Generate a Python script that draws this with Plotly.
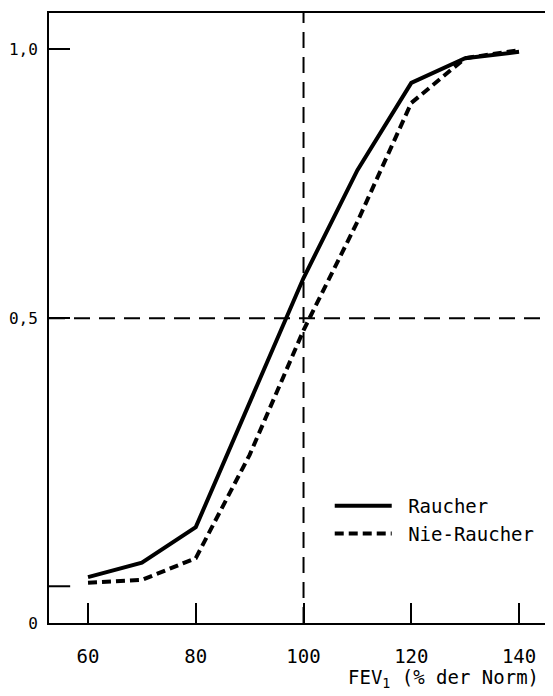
import plotly.graph_objects as go

# Data
fev = [60, 70, 80, 90, 100, 110, 120, 130, 140]
raucher = [0.080, 0.105, 0.167, 0.385, 0.601, 0.789, 0.941, 0.984, 0.995]
nie_raucher = [0.070, 0.075, 0.113, 0.293, 0.510, 0.699, 0.906, 0.984, 0.998]

x_tick_vals = [60, 80, 100, 120, 140]
x_tick_text = ["60", "80", "100", "120", "140"]
y_tick_vals = [0, 0.531, 1.0]
y_tick_text = ["0", "0,5", "1,0"]
extra_tick_y = 0.064
ref_x = 100
ref_y = 0.531
series_names = ["\u00a0Raucher", "\u00a0Nie-Raucher"]

FONT = "DejaVu Sans Mono"

fig = go.Figure()
fig.add_trace(go.Scatter(x=fev, y=raucher, mode="lines", name=series_names[0],
                         line=dict(color="black", width=4)))
fig.add_trace(go.Scatter(x=fev, y=nie_raucher, mode="lines", name=series_names[1],
                         line=dict(color="black", width=4, dash="9px,5px")))

fig.add_shape(type="line", xref="x", yref="paper", x0=ref_x, x1=ref_x, y0=0, y1=1,
              line=dict(color="black", width=2, dash="16px,9px"))
fig.add_shape(type="line", xref="paper", yref="y", x0=0, x1=1, y0=ref_y, y1=ref_y,
              line=dict(color="black", width=2, dash="16px,9px"))
fig.add_shape(type="line", xref="paper", yref="y", x0=0, x1=0.042,
              y0=extra_tick_y, y1=extra_tick_y, line=dict(color="black", width=2))

fig.add_annotation(text="FEV<sub>1</sub> (% der Norm)", xref="paper", yref="paper",
                   x=0.782, y=-0.091, xanchor="center", yanchor="middle",
                   showarrow=False, font=dict(family=FONT, size=19, color="black"))

# page body has an 8px default margin: figure is shrunk/shifted to compensate
fig.update_layout(
    width=545, height=688,
    margin=dict(l=41, r=0, t=5, b=73),
    paper_bgcolor="white", plot_bgcolor="white",
    font=dict(family=FONT, size=19, color="black"),
    showlegend=True,
    legend=dict(x=0.557, y=0.223, xanchor="left", yanchor="top", itemwidth=57,
                bgcolor="rgba(0,0,0,0)", font=dict(family=FONT, size=19)),
    xaxis=dict(range=[52.76, 146.3], tickvals=x_tick_vals, ticktext=x_tick_text,
               ticks="inside", ticklen=20, tickwidth=2, tickcolor="black",
               showline=True, linecolor="black", linewidth=2, mirror=True,
               showgrid=False, zeroline=False, ticklabelstandoff=15,
               automargin=False),
    yaxis=dict(range=[0, 1.0627], tickvals=y_tick_vals, ticktext=y_tick_text,
               ticks="inside", ticklen=21, tickwidth=2, tickcolor="black",
               showline=True, linecolor="black", linewidth=2,
               showgrid=False, zeroline=False, ticklabelstandoff=6,
               tickfont=dict(family=FONT, size=16),
               automargin=False),
)

fig.write_html("out.html")
